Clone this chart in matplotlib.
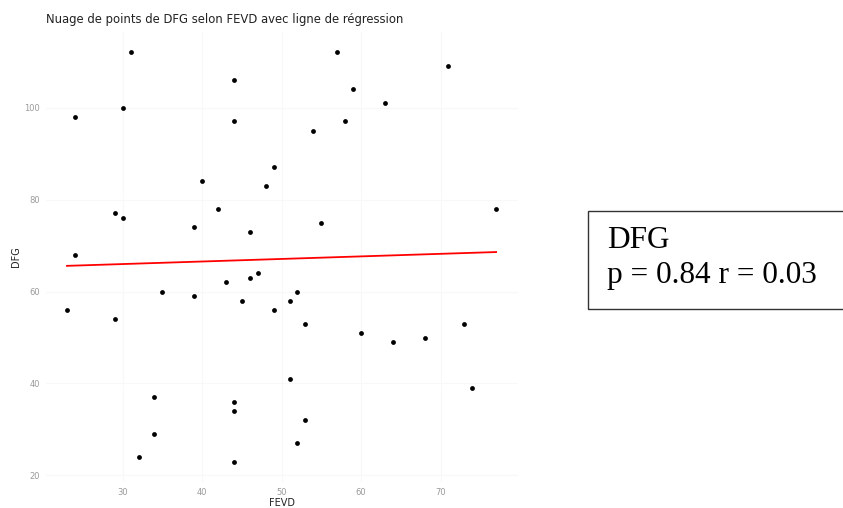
import numpy as np
import matplotlib
matplotlib.use("Agg")
import matplotlib.pyplot as plt
from matplotlib.patches import Rectangle

# FEVD / DFG observations
fevd = [31, 57, 71, 44, 59, 63, 30, 24, 44, 58, 54,
        49, 40, 48, 42, 77, 29, 30, 55, 39, 46, 24, 47, 46, 43, 35, 52, 39, 45, 51, 23, 49, 29, 53, 73,
        60, 64, 68, 51, 74, 34, 44, 44, 53, 34, 52, 32, 44]
dfg = [112, 112, 109, 106, 104, 101, 100, 98, 97, 97, 95,
       87, 84, 83, 78, 78, 77, 76, 75, 74, 73, 68, 64, 63, 62, 60, 60, 59, 58, 58, 56, 56, 54, 53, 53,
       51, 49, 50, 41, 39, 37, 36, 34, 32, 29, 27, 24, 23]
x_ticks = [30, 40, 50, 60, 70]
y_ticks = [20, 40, 60, 80, 100]
title = "Nuage de points de DFG selon FEVD avec ligne de régression"
stats_lines = ["DFG", "p = 0.84 r = 0.03"]

fevd = np.array(fevd, dtype=float)
dfg = np.array(dfg, dtype=float)

fig = plt.figure(figsize=(8.43, 5.08), dpi=100)
ax = fig.add_axes([0.054, 0.051, 0.560, 0.886])

ax.scatter(fevd, dfg, s=12, color="black", zorder=3, linewidths=0)

slope, intercept = np.polyfit(fevd, dfg, 1)
xs = np.array([fevd.min(), fevd.max()])
ax.plot(xs, intercept + slope * xs, color="red", lw=1.3, zorder=2)

xr = fevd.max() - fevd.min()
yr = dfg.max() - dfg.min()
ax.set_xlim(fevd.min() - 0.05 * xr, fevd.max() + 0.05 * xr)
ax.set_ylim(dfg.min() - 0.05 * yr, dfg.max() + 0.05 * yr)

ax.set_xticks(x_ticks)
ax.set_yticks(y_ticks)
ax.grid(True, color="#f8f8f8", lw=0.8)
for s in ax.spines.values():
    s.set_visible(False)
ax.tick_params(length=0, labelsize=6, labelcolor="#9a9a9a", pad=4)
ax.set_xlabel("FEVD", fontsize=7, color="#222222", labelpad=1)
ax.set_ylabel("DFG", fontsize=7, color="#222222", labelpad=2)
ax.set_axisbelow(True)

fig.text(46 / 843, 1 - 19 / 508, title, fontsize=8.4, color="#222222",
         ha="left", va="center")

# statistics box
box = Rectangle((588 / 843, 1 - 309 / 508), 0.5, (309 - 211) / 508,
                transform=fig.transFigure, fill=False, edgecolor="#333333",
                lw=1.0, clip_on=False)
fig.patches.append(box)
fig.text(607 / 843, 1 - 240 / 508, stats_lines[0], family="Liberation Serif",
         fontsize=22.5, color="black", ha="left", va="center")
fig.text(607 / 843, 1 - 276 / 508, stats_lines[1], family="Liberation Serif",
         fontsize=22.5, color="black", ha="left", va="center")

fig.savefig("out.png", dpi=100)
